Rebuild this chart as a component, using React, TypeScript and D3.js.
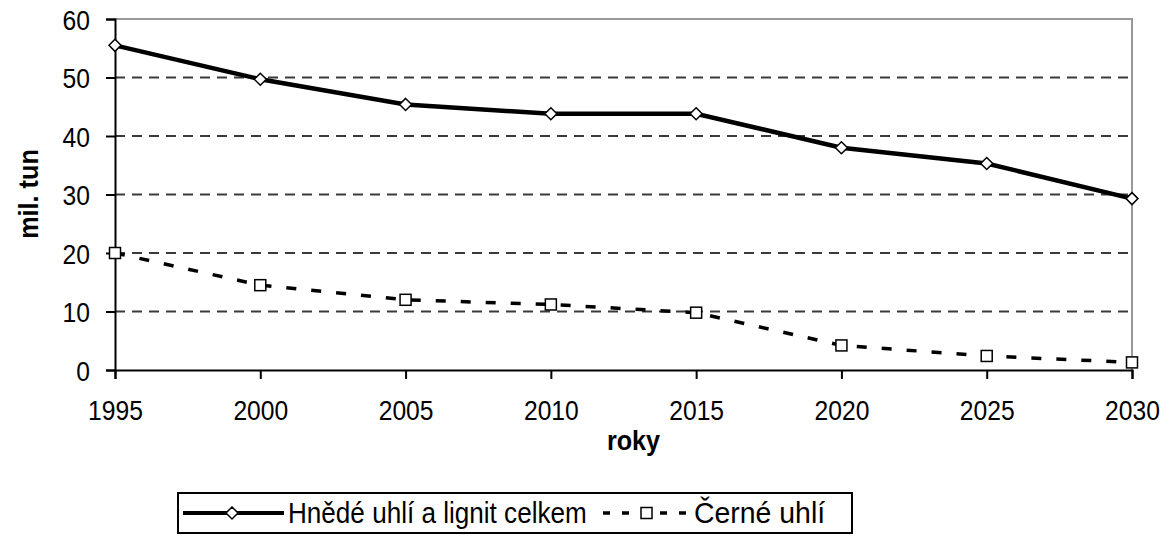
import React, { useEffect, useRef } from "react";
import * as d3 from "d3";

const years = [1995, 2000, 2005, 2010, 2015, 2020, 2025, 2030];
const hnede = [55.5, 49.7, 45.4, 43.8, 43.8, 38.0, 35.3, 29.3];
const cerne = [20.0, 14.5, 12.0, 11.2, 9.8, 4.2, 2.4, 1.3];
const yTicks = [0, 10, 20, 30, 40, 50, 60];
const seriesNames = ["Hnědé uhlí a lignit celkem", "Černé uhlí"];

export default function App() {
  const ref = useRef<SVGSVGElement>(null);

  useEffect(() => {
    const svg = d3.select(ref.current);
    svg.selectAll("*").remove();
    const font = "'Liberation Sans', Arial, sans-serif";
    const sx = 0.88; // narrow the glyphs a bit, like the old MS Sans font

    const x = d3.scaleLinear().domain([1995, 2030]).range([115, 1132]);
    const y = d3.scaleLinear().domain([0, 60]).range([370, 19]);

    // grid
    svg.append("g").selectAll("line")
      .data(yTicks.filter(d => d > 0 && d < 60))
      .enter().append("line")
      .attr("x1", x(1995)).attr("x2", x(2030))
      .attr("y1", d => y(d)).attr("y2", d => y(d))
      .attr("stroke", "#3a3a3a").attr("stroke-width", 1.8)
      .attr("stroke-dasharray", "10,7");

    // plot border top and right
    svg.append("path")
      .attr("d", `M${x(1995)},${y(60)}H${x(2030)}V${y(0)}`)
      .attr("fill", "none").attr("stroke", "#999").attr("stroke-width", 2);

    // y axis
    const yAxis = svg.append("g")
      .attr("transform", `translate(${x(1995)},0)`)
      .call(d3.axisLeft(y).tickValues(yTicks).tickSize(9));
    yAxis.selectAll(".tick text")
      .attr("x", -25 / sx).attr("dy", "0.36em")
      .attr("transform", `scale(${sx},1)`);
    // x axis
    const xAxis = svg.append("g")
      .attr("transform", `translate(0,${y(0)})`)
      .call(d3.axisBottom(x).tickValues(years).tickFormat(d3.format("d")).tickSize(9));
    xAxis.selectAll(".tick text")
      .attr("y", 50).attr("dy", null)
      .attr("transform", `scale(${sx},1)`);
    [yAxis, xAxis].forEach(a => {
      a.select(".domain").attr("stroke", "#000").attr("stroke-width", 2);
      a.selectAll(".tick line").attr("stroke", "#000").attr("stroke-width", 2);
      a.selectAll("text").attr("font-family", font).attr("font-size", 28).attr("fill", "#000");
    });

    const line = d3.line<number>().x((d, i) => x(years[i])).y(d => y(d));

    svg.append("path").datum(hnede).attr("d", line)
      .attr("fill", "none").attr("stroke", "#000").attr("stroke-width", 4.5);
    svg.append("path").datum(cerne).attr("d", line)
      .attr("fill", "none").attr("stroke", "#000").attr("stroke-width", 3.5)
      .attr("stroke-dasharray", "10,15");

    const diamond = (cx: number, cy: number) =>
      `M${cx},${cy - 6}L${cx + 6},${cy}L${cx},${cy + 6}L${cx - 6},${cy}Z`;

    svg.append("g").selectAll("path").data(hnede).enter().append("path")
      .attr("d", (d, i) => diamond(x(years[i]), y(d)))
      .attr("fill", "#fff").attr("stroke", "#000").attr("stroke-width", 1.5);
    svg.append("g").selectAll("rect").data(cerne).enter().append("rect")
      .attr("x", (d, i) => x(years[i]) - 5.5).attr("y", d => y(d) - 5.5)
      .attr("width", 11).attr("height", 11)
      .attr("fill", "#fff").attr("stroke", "#000").attr("stroke-width", 1.5);

    // axis titles
    svg.append("text")
      .attr("transform", `translate(38,194) rotate(-90) scale(0.9,1)`)
      .attr("text-anchor", "middle")
      .attr("font-family", font).attr("font-weight", "bold").attr("font-size", 28)
      .text("mil. tun");
    svg.append("text")
      .attr("transform", `translate(${(x(1995) + x(2030)) / 2 + 10},450) scale(0.9,1)`)
      .attr("text-anchor", "middle")
      .attr("font-family", font).attr("font-weight", "bold").attr("font-size", 28)
      .text("roky");

    // legend
    const lg = svg.append("g");
    const ly = 513;
    lg.append("rect").attr("x", 178).attr("y", 493).attr("width", 674).attr("height", 40)
      .attr("fill", "#fff").attr("stroke", "#000").attr("stroke-width", 2);
    lg.append("line").attr("x1", 183).attr("x2", 284).attr("y1", ly).attr("y2", ly)
      .attr("stroke", "#000").attr("stroke-width", 4);
    lg.append("path").attr("d", diamond(232, ly))
      .attr("fill", "#fff").attr("stroke", "#000").attr("stroke-width", 1.5);
    lg.append("text").attr("transform", `translate(288,${ly + 10}) scale(0.9,1)`)
      .attr("font-family", font).attr("font-size", 29).text(seriesNames[0]);
    lg.append("line").attr("x1", 603).attr("x2", 692).attr("y1", ly).attr("y2", ly)
      .attr("stroke", "#000").attr("stroke-width", 3.5).attr("stroke-dasharray", "7,12");
    lg.append("rect").attr("x", 641).attr("y", ly - 5.5).attr("width", 11).attr("height", 11)
      .attr("fill", "#fff").attr("stroke", "#000").attr("stroke-width", 1.5);
    lg.append("text").attr("transform", `translate(694,${ly + 10}) scale(0.98,1)`)
      .attr("font-family", font).attr("font-size", 29).text(seriesNames[1]);
  }, []);

  return (
    <div style={{ position: "absolute", left: 0, top: 0 }}>
      <svg ref={ref} width={1172} height={547} style={{ display: "block", background: "#fff" }} />
    </div>
  );
}
